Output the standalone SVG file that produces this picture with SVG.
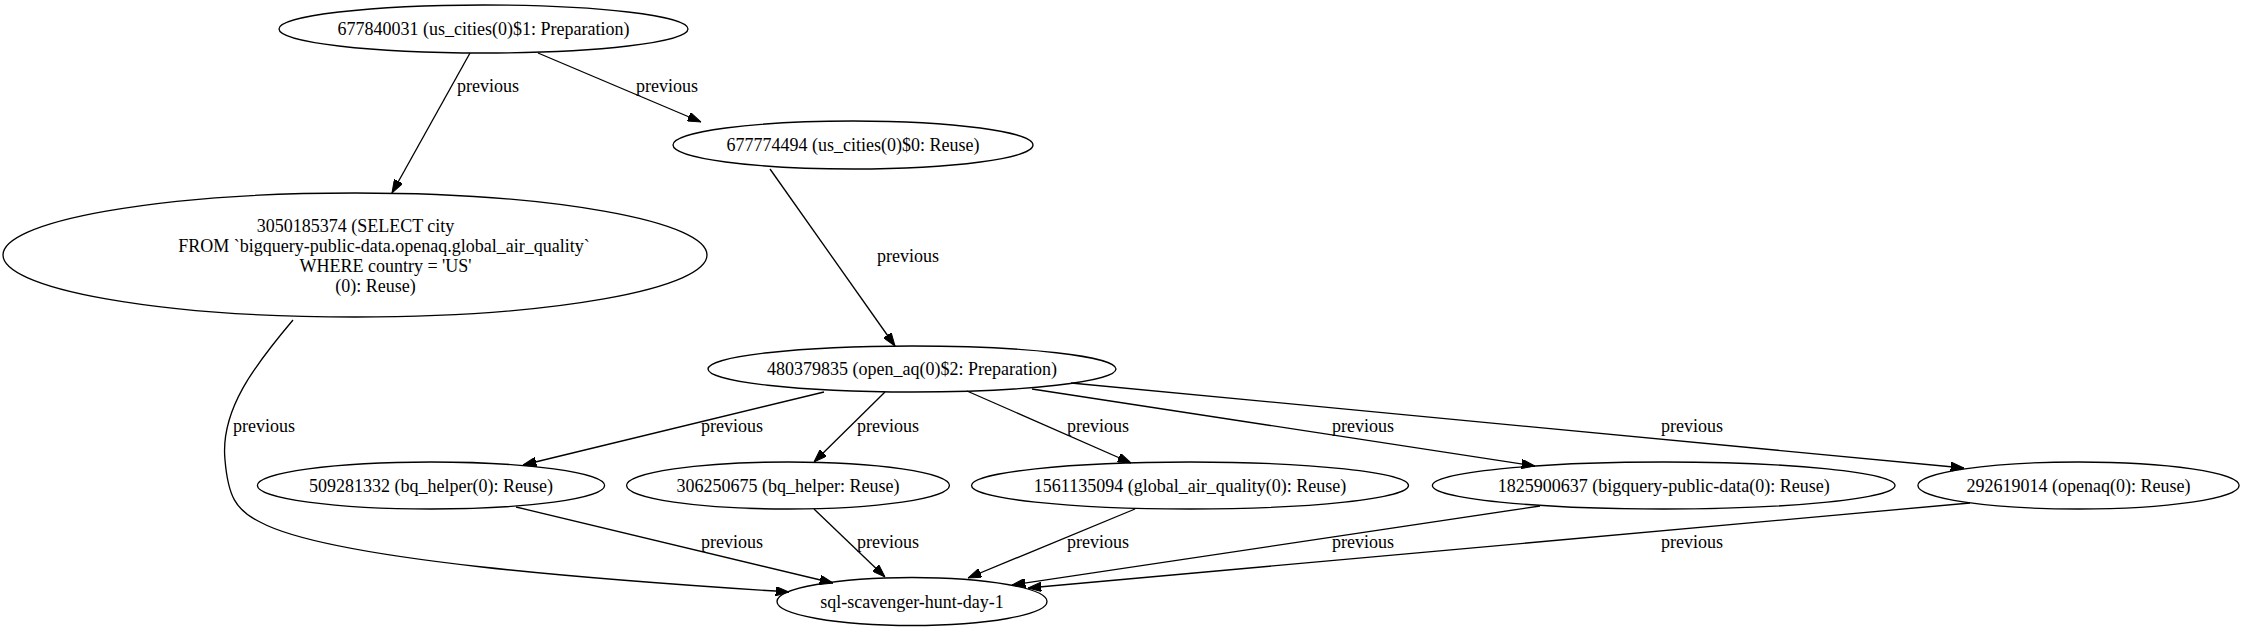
<svg xmlns="http://www.w3.org/2000/svg" width="2244" height="631" viewBox="0 0 2244 631">
<style>
.n ellipse{fill:none;stroke:#000;stroke-width:1.33}
text{font-family:"Liberation Serif","Times New Roman",serif;font-size:18px;fill:#000}
.n text{text-anchor:middle}
.e path{fill:none;stroke:#000;stroke-width:1.33;marker-end:url(#arr)}
</style>
<defs>
<marker id="arr" viewBox="0 0 13.33 9.33" refX="13.33" refY="4.67" markerWidth="13.33" markerHeight="9.33" markerUnits="userSpaceOnUse" orient="auto">
<path d="M0,0 L13.33,4.67 L0,9.33 z" fill="#000" stroke="#000" stroke-width="1"/>
</marker>
</defs>
<rect width="2244" height="631" fill="#fff"/>
<g id="edges" class="e">
<path d="M470,53 L392,193"/>
<text x="457" y="92">previous</text>
<path d="M538,53 L701,122"/>
<text x="636" y="92">previous</text>
<path d="M770,169 L895,346"/>
<text x="877" y="262">previous</text>
<path d="M293,320 C255,365 220,410 225,460 C228,495 235,510 260,522 C330,560 600,580 789,592"/>
<text x="233" y="432">previous</text>
<path d="M824,392 L523,465"/>
<text x="701" y="432">previous</text>
<path d="M885,392 L814,462"/>
<text x="857" y="432">previous</text>
<path d="M967,391 L1131,463"/>
<text x="1067" y="432">previous</text>
<path d="M1032,389 L1535,466"/>
<text x="1332" y="432">previous</text>
<path d="M1071,383 L1964,468"/>
<text x="1661" y="432">previous</text>
<path d="M516,507 L833,583"/>
<text x="701" y="548">previous</text>
<path d="M814,509 L885,577"/>
<text x="857" y="548">previous</text>
<path d="M1135,509 L968,578"/>
<text x="1067" y="548">previous</text>
<path d="M1540,506 L1012,585"/>
<text x="1332" y="548">previous</text>
<path d="M1970,503 L1028,588"/>
<text x="1661" y="548">previous</text>
</g>
<g id="n677840031" class="n"><ellipse cx="483.5" cy="29" rx="204.5" ry="24"/><text x="483.5" y="35">677840031 (us_cities(0)$1: Preparation)</text></g>
<g id="n677774494" class="n"><ellipse cx="853" cy="145" rx="180" ry="24"/><text x="853" y="151">677774494 (us_cities(0)$0: Reuse)</text></g>
<g id="n3050185374" class="n"><ellipse cx="355" cy="255" rx="352" ry="62"/>
<text x="355.5" y="232">3050185374 (SELECT city</text>
<text x="384" y="252">FROM `bigquery-public-data.openaq.global_air_quality`</text>
<text x="385.5" y="272">WHERE country = 'US'</text>
<text x="375.5" y="292">(0): Reuse)</text></g>
<g id="n480379835" class="n"><ellipse cx="912" cy="369" rx="204" ry="23"/><text x="912" y="375">480379835 (open_aq(0)$2: Preparation)</text></g>
<g id="n509281332" class="n"><ellipse cx="431" cy="485.5" rx="173.6" ry="23.5"/><text x="431" y="491.5">509281332 (bq_helper(0): Reuse)</text></g>
<g id="n306250675" class="n"><ellipse cx="788" cy="485.5" rx="161.4" ry="23.5"/><text x="788" y="491.5">306250675 (bq_helper: Reuse)</text></g>
<g id="n1561135094" class="n"><ellipse cx="1190" cy="485.5" rx="218.5" ry="23.5"/><text x="1190" y="491.5">1561135094 (global_air_quality(0): Reuse)</text></g>
<g id="n1825900637" class="n"><ellipse cx="1663.7" cy="485.5" rx="231.3" ry="23.5"/><text x="1663.7" y="491.5">1825900637 (bigquery-public-data(0): Reuse)</text></g>
<g id="n292619014" class="n"><ellipse cx="2078.5" cy="485.5" rx="160.6" ry="23.5"/><text x="2078.5" y="491.5">292619014 (openaq(0): Reuse)</text></g>
<g id="nsql" class="n"><ellipse cx="912" cy="601.5" rx="135" ry="24"/><text x="912" y="607.5">sql-scavenger-hunt-day-1</text></g>
</svg>
